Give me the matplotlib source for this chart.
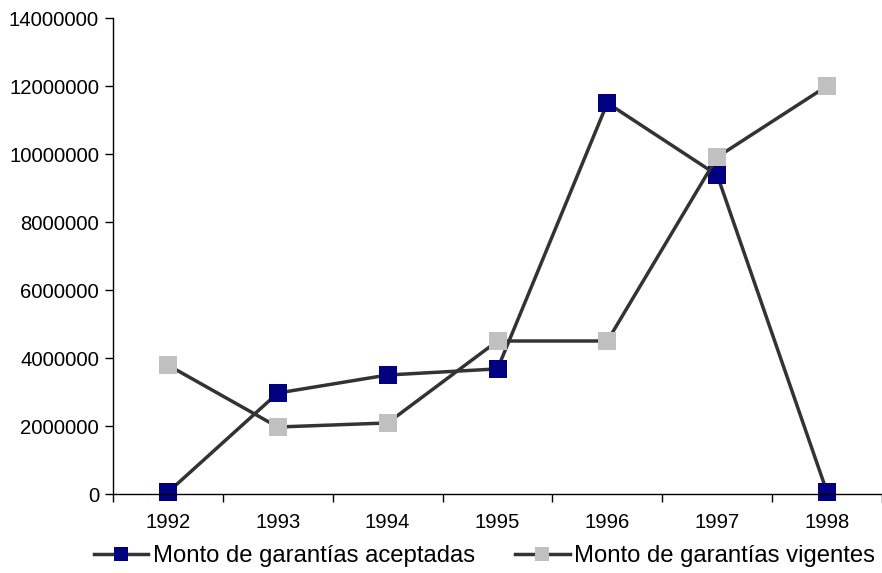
import matplotlib
matplotlib.use("Agg")
import matplotlib.pyplot as plt

years = ["1992", "1993", "1994", "1995", "1996", "1997", "1998"]
aceptadas = [50000, 2970000, 3500000, 3680000, 11500000, 9380000, 50000]
vigentes = [3790000, 1970000, 2090000, 4500000, 4500000, 9910000, 12000000]
y_ticks = [0, 2000000, 4000000, 6000000, 8000000, 10000000, 12000000, 14000000]

plt.rcParams["font.family"] = ["Liberation Sans", "DejaVu Sans"]

fig = plt.figure(figsize=(8.82, 5.73), dpi=100)
ax = fig.add_axes([113 / 882, 1 - 494 / 573, 769 / 882, 476 / 573])

x = list(range(len(years)))
line_kw = dict(color="#333333", linewidth=2.5, marker="s", markersize=13.5,
               markeredgewidth=0, solid_joinstyle="miter")
ax.plot(x, aceptadas, markerfacecolor="#000080", label="Monto de garantías aceptadas", **line_kw)
ax.plot(x, vigentes, markerfacecolor="#C0C0C0", label="Monto de garantías vigentes", **line_kw)

ax.set_xlim(-0.5, 6.5)
ax.set_ylim(0, 14000000)
ax.set_yticks(y_ticks)
ax.set_yticklabels([str(v) for v in y_ticks], fontsize=14.6)
ax.set_xticks(x)
ax.set_xticklabels(years, fontsize=14.6)
ax.set_xticks([i - 0.5 for i in range(len(years) + 1)], minor=True)
ax.tick_params(axis="x", which="major", length=0, pad=13.5)
ax.tick_params(axis="x", which="minor", length=6, width=1, direction="out")
ax.tick_params(axis="y", length=6, width=1, direction="out", pad=4)

for side in ("top", "right"):
    ax.spines[side].set_visible(False)
for side in ("left", "bottom"):
    ax.spines[side].set_linewidth(1)
    ax.spines[side].set_color("black")
for ln in ax.lines:
    ln.set_clip_on(False)

fig.legend(loc="center", bbox_to_anchor=(484.5 / 882, 1 - 556 / 573), ncol=2, frameon=False,
           fontsize=17.2, handlelength=2.3, handletextpad=0.2, columnspacing=1.65,
           markerscale=0.75, borderaxespad=0, borderpad=0)

fig.savefig("out.png", dpi=100)
